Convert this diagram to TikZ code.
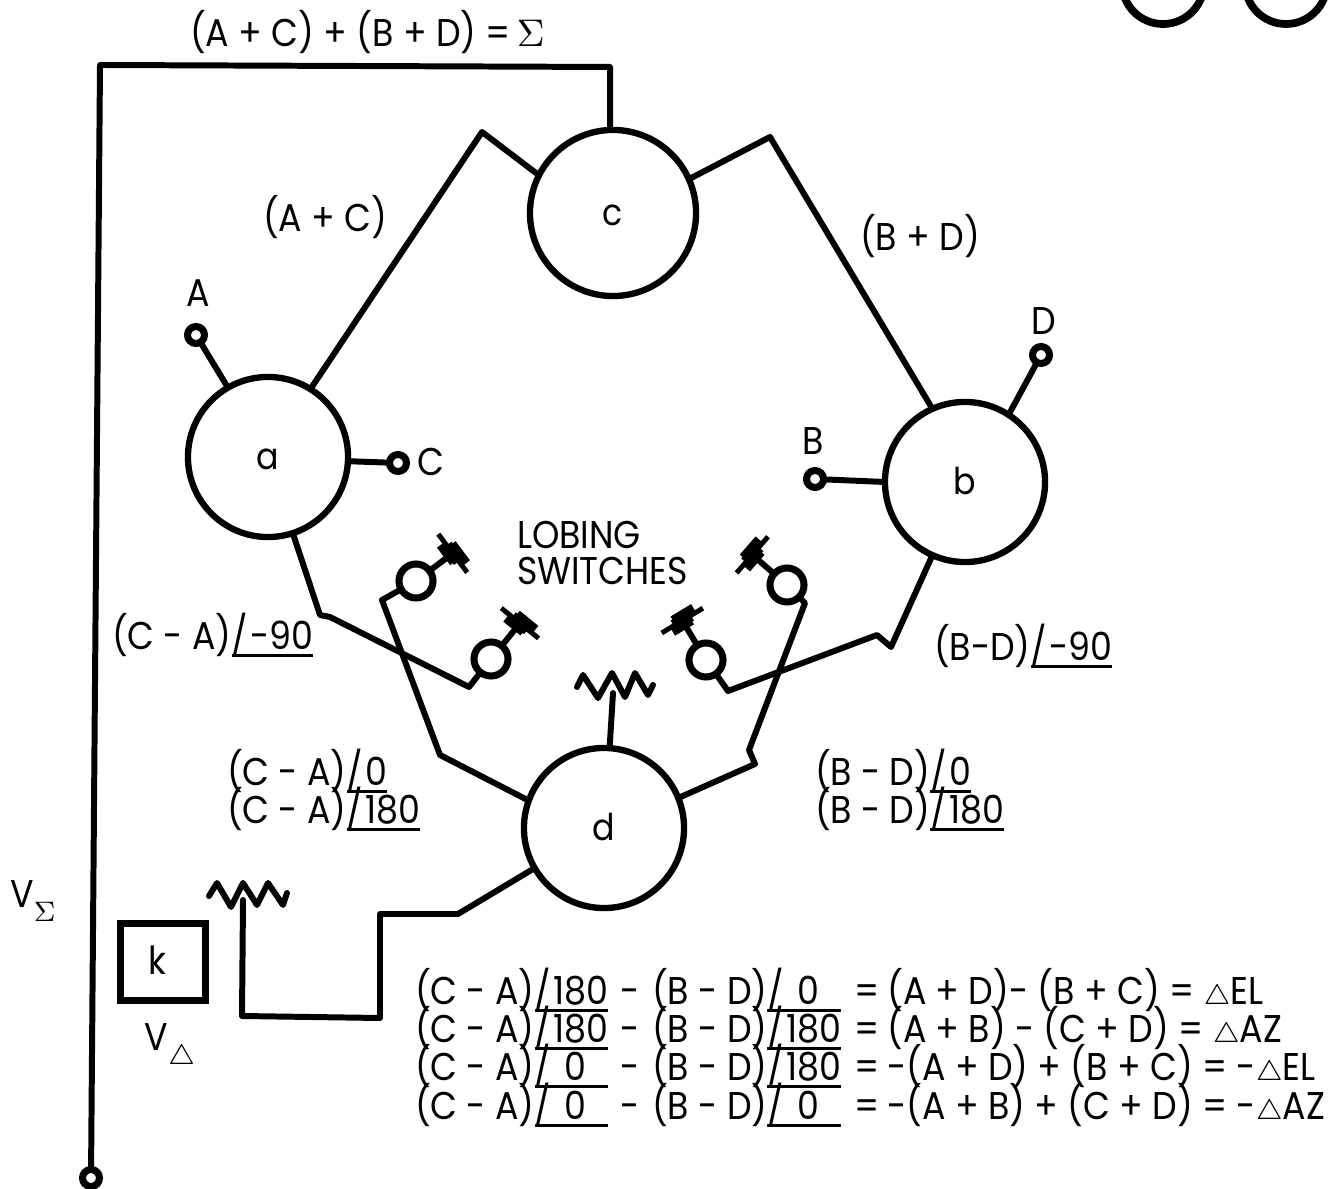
\documentclass[tikz,border=0pt]{standalone}
\usepackage{fontspec}
\setmainfont[FakeStretch=0.9]{Poppins}
\usetikzlibrary{positioning, calc}

\newcommand{\ang}[1]{\leavevmode\setbox0\hbox{/\kern0.6pt#1}\rlap{\rule[-2.2pt]{\wd0}{0.8pt}}\box0}
\newcommand{\angz}{\ang{\hphantom{1}0\hphantom{0}}}
\newcommand{\dlt}{$\scriptstyle\triangle$}
\newcommand{\eqrow}[3]{\makebox[1.92cm][l]{#1}\makebox[0.45cm]{-}\makebox[1.95cm][l]{#2}\makebox[0.4cm]{=}#3}

\tikzset{
    wire/.style={line width=1.7pt, line join=round, line cap=round},
    junction/.style={draw, circle, line width=1.8pt, minimum size=1.6cm, inner sep=0pt, outer sep=0pt, font=\fontsize{10.5}{11}\selectfont, text height=7pt, text depth=0pt},
    terminal/.style={draw, circle, line width=2pt, minimum size=0.17cm, inner sep=0pt, outer sep=0pt},
    switchring/.style={draw, circle, line width=2pt, minimum size=0.34cm, inner sep=0pt, outer sep=0pt},
    lbl/.style={inner sep=0pt, outer sep=0pt, font=\fontsize{11}{11}\selectfont},
    shortbar/.pic={
        \draw[wire] (20,0) -- (46,0);
        \draw[line width=1.4pt] (46,-24) -- (46,24);
        \draw[line width=2.4pt] (41,-14) -- (41,8);
        \draw[line width=2.6pt] (51,-8) -- (51,16);
        \draw[line width=3.4pt] (46,-10) -- (46,10);
    }
}

\begin{document}
\begin{tikzpicture}[x=0.01cm, y=-0.01cm]
    \path[use as bounding box, clip] (0,0) rectangle (1331,1189);

    % Hybrids
    \node [junction] (a) at (268,457) {a};
    \node [junction] (b) at (965,482) {b};
    \node [junction, minimum size=1.66cm] (c) at (613,213) {c};
    \node [junction] (d) at (604,828) {d};
    \node [junction, line width=2.2pt, minimum size=0.82cm] (topleft) at (1163,-17) {};
    \node [junction, line width=2.2pt, minimum size=0.82cm] (topright) at (1286,-17) {};
    \node [draw, rectangle, line width=2pt, minimum width=0.84cm, minimum height=0.77cm, inner sep=0pt, font=\fontsize{11}{11}\selectfont] (k) at (163,962) {\raisebox{1pt}{k}\kern3pt};

    % Terminals
    \node [terminal] (termA) at (196,335) {};
    \node [terminal] (termC) at (398,463) {};
    \node [terminal] (termB) at (815,479) {};
    \node [terminal] (termD) at (1041,355) {};
    \node [terminal] (termSum) at (91,1178) {};

    % Lobing switches
    \node [switchring] (swa) at (416,581) {};
    \node [switchring] (swb) at (491,659) {};
    \node [switchring] (swc) at (787,585) {};
    \node [switchring] (swd) at (706,660) {};
    \pic [rotate=37] at (swa) {shortbar};
    \pic [rotate=51] at (swb) {shortbar};
    \pic [rotate=139] at (swc) {shortbar};
    \pic [rotate=121] at (swd) {shortbar};

    % Load zigzags
    \coordinate (loadd) at (613,693);
    \coordinate (loadk) at (243,900);

    \draw[wire] (c.90) ++(-3,0) -- (610,67) -- (100,65) -- (termSum);
    \draw[wire] (c.153) -- (482,132) -- (a.58);
    \draw[wire] (c.24) -- (770,137) -- (b.114);
    \draw[wire] (a.120) -- (termA);
    \draw[wire] (a.-3) -- (termC);
    \draw[wire] (b.180) -- (termB);
    \draw[wire] (b.57) -- (termD);
    \draw[wire] (a.-72) -- (320,615) -- (330,617) -- (469,687) -- (swb);
    \draw[wire] (b.-114) -- (891,647) -- (877,635) -- (728,691) -- (swd);
    \draw[wire] (d.160) -- (440,755) -- (382,600) -- (swa);
    \draw[wire] (d.22) -- (755,764) -- (749,750) -- (805,603) -- (swc);
    \draw[wire] (d.86) -- (loadd);
    \draw[wire] (577,687) -- (583,675) -- (598,698) -- (612,673) -- (625,697) -- (635,673) -- (648,695) -- (653,685);
    \draw[wire] (d.-150) -- (458,914) -- (380,914) -- (380,1018) -- (242,1016) -- (loadk);
    \draw[wire] (209,896) -- (217,883) -- (231,907) -- (243,883) -- (257,905) -- (268,883) -- (283,905) -- (287,893);

    % Labels
    \node [lbl, anchor=west] (lsum) at (190,32) {(A + C) + (B + D) = \kern-1pt$\Sigma$};
    \node [lbl, anchor=west] (lac) at (263,217) {(A + C)};
    \node [lbl, anchor=west] (lbd) at (860,236) {(B + D)};
    \node [lbl] (la) at (198,293) {A};
    \node [lbl] (ld) at (1044,321) {D};
    \node [lbl] (lc) at (431,462) {C};
    \node [lbl] (lb) at (813,441) {B};
    \node [lbl, anchor=west, align=left, font=\fontsize{11}{10.2}\selectfont] (lobing) at (517,553) {LOBING\\SWITCHES};
    \node [lbl, anchor=west] (lcam) at (112,635) {(C - A)\ang{-90}};
    \node [lbl, anchor=west] (lbdm) at (934,646) {(B-D)\ang{-90}};
    \node [lbl, anchor=west] (lcaz) at (227,771) {(C - A)\ang{0}\hphantom{0}};
    \node [lbl, anchor=west] (lcah) at (227,809) {(C - A)\ang{180}};
    \node [lbl, anchor=west] (lbdz) at (815,771) {(B - D)\ang{0}\hphantom{0}};
    \node [lbl, anchor=west] (lbdh) at (815,809) {(B - D)\ang{180}};
    \node [lbl] (vsum) at (33,901) {V\raisebox{-4pt}{$\scriptstyle\Sigma$}};
    \node [lbl] (vdelta) at (170,1047) {V\raisebox{-4pt}{$\scriptstyle\triangle$}};

    % Sum and difference equations
    \node [lbl, anchor=base west] (eqa) at (415,1004) {\eqrow{(C - A)\ang{180}}{(B - D)\angz}{(A + D)- (B + C) = \dlt EL}};
    \node [lbl, anchor=base west] (eqb) at (415,1042) {\eqrow{(C - A)\ang{180}}{(B - D)\ang{180}}{(A + B) - (C + D) = \dlt AZ}};
    \node [lbl, anchor=base west] (eqc) at (415,1080) {\eqrow{(C - A)\angz}{(B - D)\ang{180}}{-(A + D) + (B + C) = -\dlt EL}};
    \node [lbl, anchor=base west] (eqd) at (415,1119) {\eqrow{(C - A)\angz}{(B - D)\angz}{-(A + B) + (C + D) = -\dlt AZ}};
\end{tikzpicture}
\end{document}
